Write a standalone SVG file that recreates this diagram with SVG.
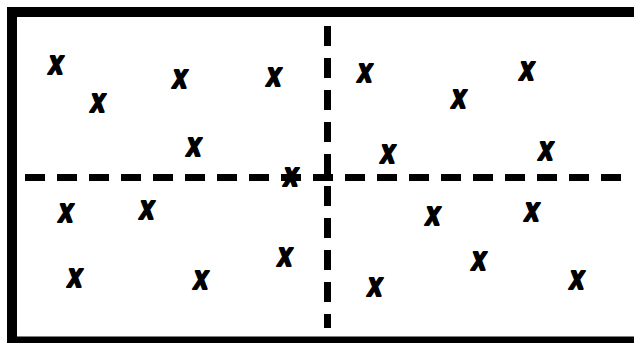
<svg xmlns="http://www.w3.org/2000/svg" width="634" height="343" viewBox="0 0 634 343" overflow="hidden">
<style>
.frame{fill:none;stroke:#000;stroke-width:10}
.div{fill:none;stroke:#000;stroke-width:7;stroke-dasharray:20 12}
.m{font-family:"DejaVu Sans",sans-serif;font-weight:bold;font-size:30px;fill:#000;stroke:#000;stroke-width:1.6;stroke-linejoin:round;text-anchor:middle}
</style>
<rect x="0" y="0" width="634" height="343" fill="#fff"/>
<g id="frame">
<line class="frame" x1="7" y1="12" x2="634" y2="12"/>
<line class="frame" x1="12" y1="7" x2="12" y2="343"/>
<line class="frame" x1="7" y1="341.5" x2="634" y2="341.5"/>
</g>
<g id="connectors">
<line class="div" x1="25" y1="177.5" x2="627" y2="177.5"/>
<line class="div" x1="327.5" y1="26" x2="327.5" y2="328"/>
</g>
<g id="marks">
<text class="m" x="0" y="8.5" transform="translate(56 65) skewX(-8) scale(.78 1.1)">x</text>
<text class="m" x="0" y="8.5" transform="translate(98 103) skewX(-8) scale(.78 1.1)">x</text>
<text class="m" x="0" y="8.5" transform="translate(180 79) skewX(-8) scale(.78 1.1)">x</text>
<text class="m" x="0" y="8.5" transform="translate(274 77) skewX(-8) scale(.78 1.1)">x</text>
<text class="m" x="0" y="8.5" transform="translate(194 147) skewX(-8) scale(.78 1.1)">x</text>
<text class="m" x="0" y="8.5" transform="translate(291 177) skewX(-8) scale(.78 1.1)">x</text>
<text class="m" x="0" y="8.5" transform="translate(66 213) skewX(-8) scale(.78 1.1)">x</text>
<text class="m" x="0" y="8.5" transform="translate(147 210) skewX(-8) scale(.78 1.1)">x</text>
<text class="m" x="0" y="8.5" transform="translate(285 257) skewX(-8) scale(.78 1.1)">x</text>
<text class="m" x="0" y="8.5" transform="translate(75 278) skewX(-8) scale(.78 1.1)">x</text>
<text class="m" x="0" y="8.5" transform="translate(201 280) skewX(-8) scale(.78 1.1)">x</text>
<text class="m" x="0" y="8.5" transform="translate(365 73) skewX(-8) scale(.78 1.1)">x</text>
<text class="m" x="0" y="8.5" transform="translate(527 71) skewX(-8) scale(.78 1.1)">x</text>
<text class="m" x="0" y="8.5" transform="translate(459 99) skewX(-8) scale(.78 1.1)">x</text>
<text class="m" x="0" y="8.5" transform="translate(388 154) skewX(-8) scale(.78 1.1)">x</text>
<text class="m" x="0" y="8.5" transform="translate(546 151) skewX(-8) scale(.78 1.1)">x</text>
<text class="m" x="0" y="8.5" transform="translate(433 216) skewX(-8) scale(.78 1.1)">x</text>
<text class="m" x="0" y="8.5" transform="translate(532 212) skewX(-8) scale(.78 1.1)">x</text>
<text class="m" x="0" y="8.5" transform="translate(479 261) skewX(-8) scale(.78 1.1)">x</text>
<text class="m" x="0" y="8.5" transform="translate(375 287) skewX(-8) scale(.78 1.1)">x</text>
<text class="m" x="0" y="8.5" transform="translate(577 280) skewX(-8) scale(.78 1.1)">x</text>
</g>
</svg>
